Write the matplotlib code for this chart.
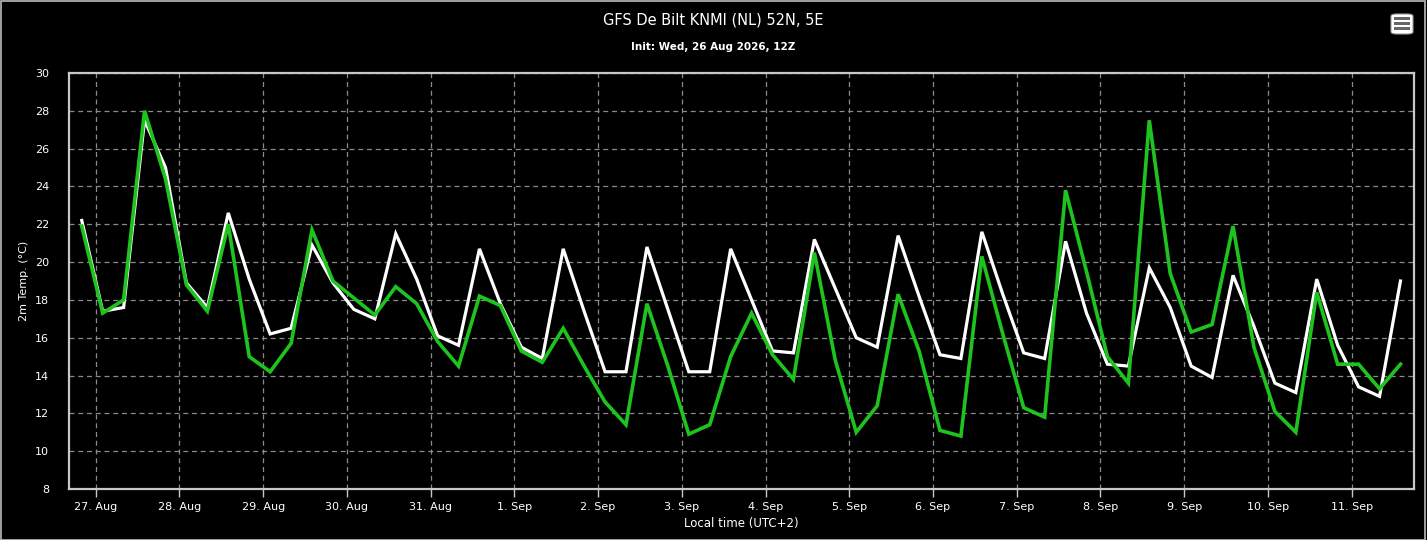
import datetime as dt
import matplotlib
matplotlib.use("Agg")
import matplotlib.pyplot as plt
import matplotlib.dates as mdates
from matplotlib.patches import FancyBboxPatch, Rectangle
import pandas as pd

# 6-hourly GFS run, local time (UTC+2)
times = pd.date_range("2026-08-26 20:00", periods=64, freq="6h")

temp_white = [22.2, 17.4, 17.6, 27.5, 25.0, 18.9, 17.6, 22.6, 19.1, 16.2, 16.5,
              20.9, 18.9, 17.5, 17.0, 21.5, 19.1, 16.1, 15.6, 20.7, 17.8,
              15.5, 14.9, 20.7, 17.4, 14.2, 14.2, 20.8, 17.5, 14.2, 14.2, 20.7,
              18.0, 15.3, 15.2, 21.2, 18.6, 16.0, 15.5, 21.4, 18.2, 15.1, 14.9,
              21.6, 18.3, 15.2, 14.9, 21.1, 17.3, 14.6, 14.5, 19.7, 17.6,
              14.5, 13.9, 19.3, 16.6, 13.6, 13.1, 19.1, 15.6, 13.4, 12.9, 19.0]

temp_green = [21.9, 17.3, 18.0, 28.0, 24.4, 18.8, 17.4, 22.0, 15.0, 14.2, 15.7,
              21.7, 19.0, 18.1, 17.2, 18.7, 17.8, 15.8, 14.5, 18.2, 17.7,
              15.3, 14.7, 16.5, 14.5, 12.6, 11.4, 17.8, 14.5, 10.9, 11.4, 15.0,
              17.3, 15.1, 13.8, 20.5, 14.8, 11.0, 12.4, 18.3, 15.3, 11.1, 10.8,
              20.3, 16.2, 12.3, 11.8, 23.8, 19.5, 15.0, 13.6, 27.5, 19.4,
              16.3, 16.7, 21.9, 15.5, 12.1, 11.0, 18.4, 14.6, 14.6, 13.3, 14.6]

day_ticks = pd.date_range("2026-08-27", "2026-09-11", freq="D")
y_ticks = list(range(8, 31, 2))

title = "GFS De Bilt KNMI (NL) 52N, 5E"
subtitle = "Init: Wed, 26 Aug 2026, 12Z"

fig = plt.figure(figsize=(14.27, 5.4), dpi=100, facecolor="black")
ax = fig.add_axes([68.5 / 1427, 51 / 540, (1413.5 - 68.5) / 1427, 416 / 540])
ax.set_facecolor("black")

ax.plot(times, temp_white, color="white", lw=2.3, solid_joinstyle="miter", zorder=3)
ax.plot(times, temp_green, color="#1ec31e", lw=2.6, solid_joinstyle="miter", zorder=4)

ax.set_ylim(8, 30)
ax.set_yticks(y_ticks)
ax.set_xlim(dt.datetime(2026, 8, 26, 16, 12), dt.datetime(2026, 9, 11, 17, 44))
ax.set_xticks(day_ticks)
ax.xaxis.set_major_formatter(
    matplotlib.ticker.FuncFormatter(
        lambda v, p: "%d. %s" % (mdates.num2date(v).day, mdates.num2date(v).strftime("%b"))))

ax.grid(True, color="#8a8a8a", ls=(0, (4, 3)), lw=0.9)
for s in ax.spines.values():
    s.set_color("#c8c8c8")
    s.set_linewidth(1.6)

ax.tick_params(axis="x", colors="#c8c8c8", labelcolor="white", length=6, width=1,
               labelsize=8, pad=3)
ax.tick_params(axis="y", length=0, labelcolor="white", labelsize=8, pad=14)

ax.set_xlabel("Local time (UTC+2)", color="white", fontsize=8.5, labelpad=4)
ax.set_ylabel("2m Temp. (°C)", color="white", fontsize=8, labelpad=4)

fig.text(713 / 1427, 1 - 20 / 540, title, color="white", fontsize=10.5,
         ha="center", va="center")
fig.text(713 / 1427, 1 - 47 / 540, subtitle, color="white", fontsize=7.5,
         fontweight="bold", ha="center", va="center")

# menu button top right
btn = FancyBboxPatch((1391 / 1427, 1 - 34 / 540), 22 / 1427, 20 / 540,
                     boxstyle="round,pad=0,rounding_size=0.004",
                     transform=fig.transFigure, facecolor="white",
                     edgecolor="#999999", lw=0.8)
fig.patches.append(btn)
for yy in (18.5, 23.5, 28.5):
    fig.patches.append(Rectangle((1394 / 1427, 1 - (yy + 1.3) / 540), 16 / 1427, 2.6 / 540,
                                 transform=fig.transFigure, facecolor="#666666",
                                 edgecolor="none"))

# outer border of the chart container
fig.patches.append(Rectangle((0.5 / 1427, 0), 1424 / 1427, 539 / 540,
                             transform=fig.transFigure, fill=False,
                             edgecolor="#bbbbbb", lw=1.2))

fig.savefig("out.png", dpi=100, facecolor="black")
